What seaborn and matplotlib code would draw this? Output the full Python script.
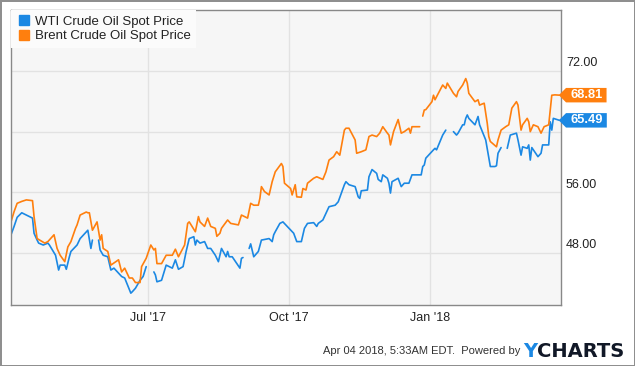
import numpy as np
import pandas as pd
import seaborn as sns
import matplotlib
matplotlib.use("Agg")
import matplotlib.pyplot as plt
import matplotlib.dates as mdates
from matplotlib.lines import Line2D
from matplotlib.path import Path
from matplotlib.transforms import ScaledTranslation

nan = np.nan

# WTI / Brent spot prices (USD/bbl), NaN = no quote that day (gap in line)
wti_dates = [
    "2017-04-03", "2017-04-05", "2017-04-07", "2017-04-10", "2017-04-13", "2017-04-17",
    "2017-04-18", "2017-04-20", "2017-04-21", "2017-04-24", "2017-04-27", "2017-04-28",
    "2017-05-02", "2017-05-04", "2017-05-05", "2017-05-08", "2017-05-09", "2017-05-11",
    "2017-05-12", "2017-05-16", "2017-05-18", "2017-05-23", "2017-05-25", "2017-05-26",
    "2017-05-29", "2017-05-30", "2017-05-31", "2017-06-02", "2017-06-05", "2017-06-07",
    "2017-06-09", "2017-06-14", "2017-06-16", "2017-06-20", "2017-06-21", "2017-06-23",
    "2017-06-26", "2017-06-28", "2017-06-30", "2017-07-04", "2017-07-05", "2017-07-06",
    "2017-07-07", "2017-07-10", "2017-07-13", "2017-07-17", "2017-07-19", "2017-07-21",
    "2017-07-24", "2017-07-26", "2017-07-28", "2017-07-31", "2017-08-01", "2017-08-02",
    "2017-08-04", "2017-08-07", "2017-08-09", "2017-08-11", "2017-08-14", "2017-08-16",
    "2017-08-18", "2017-08-21", "2017-08-22", "2017-08-23", "2017-08-25", "2017-08-28",
    "2017-08-30", "2017-08-31", "2017-09-01", "2017-09-04", "2017-09-05", "2017-09-06",
    "2017-09-08", "2017-09-11", "2017-09-13", "2017-09-18", "2017-09-20", "2017-09-21",
    "2017-09-22", "2017-09-25", "2017-09-27", "2017-10-04", "2017-10-06", "2017-10-09",
    "2017-10-11", "2017-10-13", "2017-10-17", "2017-10-19", "2017-10-20", "2017-10-23",
    "2017-10-27", "2017-10-31", "2017-11-02", "2017-11-06", "2017-11-07", "2017-11-09",
    "2017-11-13", "2017-11-15", "2017-11-16", "2017-11-17", "2017-11-21", "2017-11-22",
    "2017-11-24", "2017-11-27", "2017-11-28", "2017-11-30", "2017-12-01", "2017-12-04",
    "2017-12-05", "2017-12-06", "2017-12-07", "2017-12-11", "2017-12-13", "2017-12-15",
    "2017-12-18", "2017-12-20", "2017-12-22", "2017-12-26", "2017-12-27", "2017-12-28",
    "2017-12-29", "2018-01-03", "2018-01-04", "2018-01-05", "2018-01-09", "2018-01-11",
    "2018-01-15", "2018-01-16", "2018-01-18", "2018-01-19", "2018-01-22", "2018-01-23",
    "2018-01-24", "2018-01-25", "2018-01-26", "2018-01-30", "2018-02-01", "2018-02-02",
    "2018-02-06", "2018-02-09", "2018-02-12", "2018-02-13", "2018-02-14", "2018-02-16",
    "2018-02-19", "2018-02-20", "2018-02-22", "2018-02-26", "2018-02-27", "2018-03-01",
    "2018-03-02", "2018-03-05", "2018-03-06", "2018-03-07", "2018-03-08", "2018-03-09",
    "2018-03-12", "2018-03-14", "2018-03-15", "2018-03-19", "2018-03-20", "2018-03-21",
    "2018-03-22", "2018-03-26",
]
wti_prices = [
    50.4, 51.5, 52.7, 53.3, 53.0, 52.6,
    50.6, 49.7, 49.3, 49.05, 49.3, 49.05,
    47.7, 45.75, 46.4, 46.4, 45.85, 47.5,
    48.2, 49.05, 49.9, 51.0, 48.6, 49.7,
    nan, 49.7, 48.4, 47.7, 47.5, 45.75,
    46.0, 44.9, 44.7, 42.7, 42.9, 43.35,
    44.4, 44.9, 46.2, nan, 45.5, 45.1,
    44.2, 44.4, 46.4, 46.0, 47.1, 45.85,
    46.2, 48.2, 49.9, 50.15, 49.05, 49.7,
    49.3, 49.5, 48.6, 48.6, 47.7, 46.85,
    48.6, 47.5, 48.2, 47.5, 47.5, 46.6,
    46.0, 47.3, 47.4, nan, 48.6, 49.2,
    47.5, 48.2, 49.7, 49.9, 49.5, 50.4,
    50.8, 51.9, 52.1, 50.6, 49.5, 49.5,
    51.25, 51.9, 52.0, 51.5, 51.9, 52.35,
    54.1, 54.3, 54.75, 57.0, 57.4, 57.0,
    56.75, 55.4, 55.2, 56.2, 56.3, 58.05,
    59.0, 58.5, 57.7, 57.4, 58.3, 57.85,
    57.2, 55.9, 57.4, 57.85, 56.75, 57.2,
    57.2, 58.3, 58.3, 58.3, 59.4, 59.6,
    60.5, 61.6, 61.8, 61.6, 63.55, 64.2,
    nan, 64.0, 63.55, 63.8, 64.9, 64.9,
    65.75, 66.2, 65.75, 64.9, 66.0, 64.9,
    62.9, 59.4, 59.4, 59.5, 61.15, 61.9,
    nan, 61.8, 63.55, 63.8, 62.9, 60.9,
    62.0, 61.8, 62.25, 60.25, 61.9, 61.6,
    60.7, 61.15, 62.25, 62.25, 65.3, 64.2,
    65.75, 65.49,
]

brent_dates = [
    "2017-04-03", "2017-04-05", "2017-04-07", "2017-04-10", "2017-04-13", "2017-04-17",
    "2017-04-18", "2017-04-20", "2017-04-25", "2017-04-27", "2017-05-01", "2017-05-02",
    "2017-05-03", "2017-05-05", "2017-05-08", "2017-05-10", "2017-05-12", "2017-05-15",
    "2017-05-16", "2017-05-18", "2017-05-22", "2017-05-23", "2017-05-24", "2017-05-26",
    "2017-05-29", "2017-05-31", "2017-06-01", "2017-06-02", "2017-06-05", "2017-06-07",
    "2017-06-12", "2017-06-14", "2017-06-16", "2017-06-19", "2017-06-21", "2017-06-23",
    "2017-06-26", "2017-06-27", "2017-06-30", "2017-07-03", "2017-07-05", "2017-07-06",
    "2017-07-07", "2017-07-10", "2017-07-13", "2017-07-17", "2017-07-19", "2017-07-21",
    "2017-07-25", "2017-07-27", "2017-07-28", "2017-08-01", "2017-08-03", "2017-08-04",
    "2017-08-07", "2017-08-09", "2017-08-11", "2017-08-14", "2017-08-15", "2017-08-17",
    "2017-08-18", "2017-08-22", "2017-08-24", "2017-08-29", "2017-08-31", "2017-09-04",
    "2017-09-06", "2017-09-08", "2017-09-11", "2017-09-12", "2017-09-13", "2017-09-15",
    "2017-09-18", "2017-09-20", "2017-09-22", "2017-09-26", "2017-09-27", "2017-09-28",
    "2017-10-02", "2017-10-03", "2017-10-05", "2017-10-06", "2017-10-09", "2017-10-10",
    "2017-10-12", "2017-10-13", "2017-10-17", "2017-10-19", "2017-10-23", "2017-10-25",
    "2017-10-27", "2017-10-30", "2017-11-01", "2017-11-03", "2017-11-06", "2017-11-07",
    "2017-11-09", "2017-11-13", "2017-11-14", "2017-11-17", "2017-11-20", "2017-11-22",
    "2017-11-24", "2017-11-27", "2017-11-29", "2017-12-01", "2017-12-04", "2017-12-05",
    "2017-12-06", "2017-12-08", "2017-12-11", "2017-12-13", "2017-12-15", "2017-12-18",
    "2017-12-19", "2017-12-20", "2017-12-22", "2017-12-25", "2017-12-26", "2017-12-27",
    "2017-12-28", "2017-12-29", "2018-01-02", "2018-01-03", "2018-01-04", "2018-01-05",
    "2018-01-09", "2018-01-11", "2018-01-12", "2018-01-16", "2018-01-18", "2018-01-19",
    "2018-01-22", "2018-01-24", "2018-01-25", "2018-01-26", "2018-01-30", "2018-02-01",
    "2018-02-02", "2018-02-05", "2018-02-07", "2018-02-08", "2018-02-09", "2018-02-13",
    "2018-02-14", "2018-02-16", "2018-02-19", "2018-02-21", "2018-02-23", "2018-02-26",
    "2018-02-27", "2018-03-01", "2018-03-02", "2018-03-05", "2018-03-06", "2018-03-07",
    "2018-03-09", "2018-03-12", "2018-03-14", "2018-03-16", "2018-03-19", "2018-03-21",
    "2018-03-23", "2018-03-26",
]
brent_prices = [
    52.1, 53.45, 54.55, 54.8, 55.0, 54.9,
    52.8, 49.9, 49.3, 49.5, 50.4, 49.5,
    48.6, 47.7, 46.85, 48.8, 49.5, 51.25,
    51.7, 53.0, 53.4, 53.3, 53.3, 51.0,
    52.1, 49.7, 50.4, 48.6, 48.2, 46.4,
    47.1, 45.5, 46.0, 44.7, 44.7, 44.1,
    44.1, 46.2, 47.3, 49.05, 48.4, 48.6,
    46.6, 46.6, 47.7, 47.7, 48.5, 47.5,
    49.05, 51.9, 52.1, 50.8, 52.8, 52.1,
    51.5, 52.6, 51.5, 51.25, 50.2, 50.6,
    51.25, 52.35, 51.9, 51.7, 53.0, 52.6,
    54.55, 54.3, 54.3, 55.2, 56.75, 56.1,
    55.65, 57.4, 58.7, 59.8, 59.4, 57.2,
    56.5, 55.65, 57.0, 55.4, 55.35, 56.5,
    56.3, 57.2, 57.85, 58.05, 57.7, 58.7,
    60.25, 60.7, 61.35, 60.9, 64.2, 64.45,
    64.45, 62.9, 61.15, 61.35, 61.6, 63.35,
    63.55, 63.35, 63.8, 64.65, 63.8, 63.55,
    62.25, 64.0, 65.6, 63.8, 64.0, 64.45,
    63.8, 64.65, 64.65, 64.65, nan, 66.05,
    66.85, 66.9, 67.95, 68.8, 68.2, 68.6,
    70.15, 69.7, 70.4, 69.05, 68.6, 69.3,
    70.15, 71.0, 70.4, 69.05, 67.95, 68.2,
    67.5, 67.75, 65.1, 63.35, 62.7, 62.0,
    62.9, 64.2, 64.65, 64.9, 67.1, 67.95,
    67.5, 64.2, 64.9, 65.75, 65.3, 64.0,
    64.9, 64.65, 63.8, 64.65, 64.9, 68.8,
    68.85, 68.81,
]

series_names = ["WTI Crude Oil Spot Price", "Brent Crude Oil Spot Price"]
colors = ["#1b88e3", "#ff7f0e"]
y_ticks = [48, 56, 64, 72]
# the 64.00 label is hidden under the WTI price tag in the original
y_tick_labels = ["48.00", "56.00", "", "72.00"]


def to_frame(name, dates, prices):
    d = pd.DataFrame({"date": pd.to_datetime(dates), "price": prices})
    d["series"] = name
    # new segment after every missing quote so the line breaks there
    d["seg"] = d["price"].isna().cumsum()
    return d.dropna()


df = pd.concat([to_frame(series_names[0], wti_dates, wti_prices),
                to_frame(series_names[1], brent_dates, brent_prices)])

sns.set_style("white")
plt.rcParams["font.family"] = ["Liberation Sans", "DejaVu Sans"]

fig = plt.figure(figsize=(6.35, 3.66), dpi=100)
fig.patch.set_edgecolor("#8f8f8f")
fig.patch.set_linewidth(2)
ax = fig.add_axes([11 / 635, 61 / 366, 550 / 635, 295 / 366])
ax.set_facecolor("#f6f6f6")

sns.lineplot(data=df, x="date", y="price", hue="series", units="seg",
             estimator=None, palette=dict(zip(series_names, colors)),
             linewidth=1.2, legend=False, ax=ax)

ax.set_xlim(pd.Timestamp("2017-04-03"), pd.Timestamp("2018-03-27"))
ax.set_ylim(41.14, 80.04)
ax.set_xlabel("")
ax.set_ylabel("")

ax.xaxis.set_major_locator(mdates.MonthLocator(bymonth=[1, 4, 7, 10]))
ax.xaxis.set_major_formatter(mdates.DateFormatter("%b '%y"))
ax.set_yticks(y_ticks)
ax.set_yticklabels(y_tick_labels)
ax.yaxis.tick_right()
ax.tick_params(axis="x", length=0, pad=5, labelsize=9, labelcolor="#222222")
ax.tick_params(axis="y", length=0, pad=3.5, labelsize=9, labelcolor="#222222")
# labels sit just above their gridline
for lab in ax.get_yticklabels():
    lab.set_transform(lab.get_transform() + ScaledTranslation(0, 6.5 / 72, fig.dpi_scale_trans))

ax.set_axisbelow(True)
ax.grid(True, color="#e2e2e2", linewidth=1)
for sp in ax.spines.values():
    sp.set_visible(True)
    sp.set_color("#888888")
    sp.set_linewidth(1)

handles = [Line2D([], [], ls="none", marker="s", markersize=6.5, color=c) for c in colors]
leg = ax.legend(handles, series_names, loc="upper left", bbox_to_anchor=(0, 1),
                borderaxespad=0, fontsize=9.5, frameon=True, fancybox=False,
                facecolor="#fbfbfb", edgecolor="none", framealpha=1,
                borderpad=0.4, labelspacing=0.2, handlelength=1.1, handletextpad=0.3)
for t in leg.get_texts():
    t.set_color("#222222")


def price_tag(x0, y0, width, height, mutation_size):
    px = 0.32 * mutation_size
    h = 1.12 * mutation_size
    cy = y0 + height / 2
    left, right = x0 - px, x0 + width + px
    bot, top = cy - h / 2, cy + h / 2
    tip = h / 2
    return Path([(left - tip, cy), (left, bot), (right, bot), (right, top),
                 (left, top), (left - tip, cy)], closed=True)


last_vals = [wti_prices[-1], brent_prices[-1]]
for v, c in zip(last_vals, colors):
    ax.annotate(f"{v:.2f}", xy=(1, v), xycoords=("axes fraction", "data"),
                xytext=(6.6, 0), textcoords="offset points", ha="left", va="center",
                color="white", fontsize=9.3, fontweight="bold", annotation_clip=False,
                bbox=dict(boxstyle=price_tag, fc=c, ec="none"), zorder=5)

fig.text(520 / 635, 1 - 351 / 366, "Apr 04 2018, 5:33AM EDT.  Powered by",
         ha="right", va="center", fontsize=8, color="#333333")
logo_y = fig.text(523 / 635, 1 - 357 / 366, "Y", ha="left", va="baseline",
                  fontsize=14, fontweight="bold", color="#1b88e3", family="DejaVu Sans")
ax.annotate("CHARTS", xy=(1, 0), xycoords=logo_y, ha="left", va="bottom",
            fontsize=14, fontweight="bold", color="#111827", family="DejaVu Sans",
            annotation_clip=False)

fig.savefig("out.png", dpi=100)
